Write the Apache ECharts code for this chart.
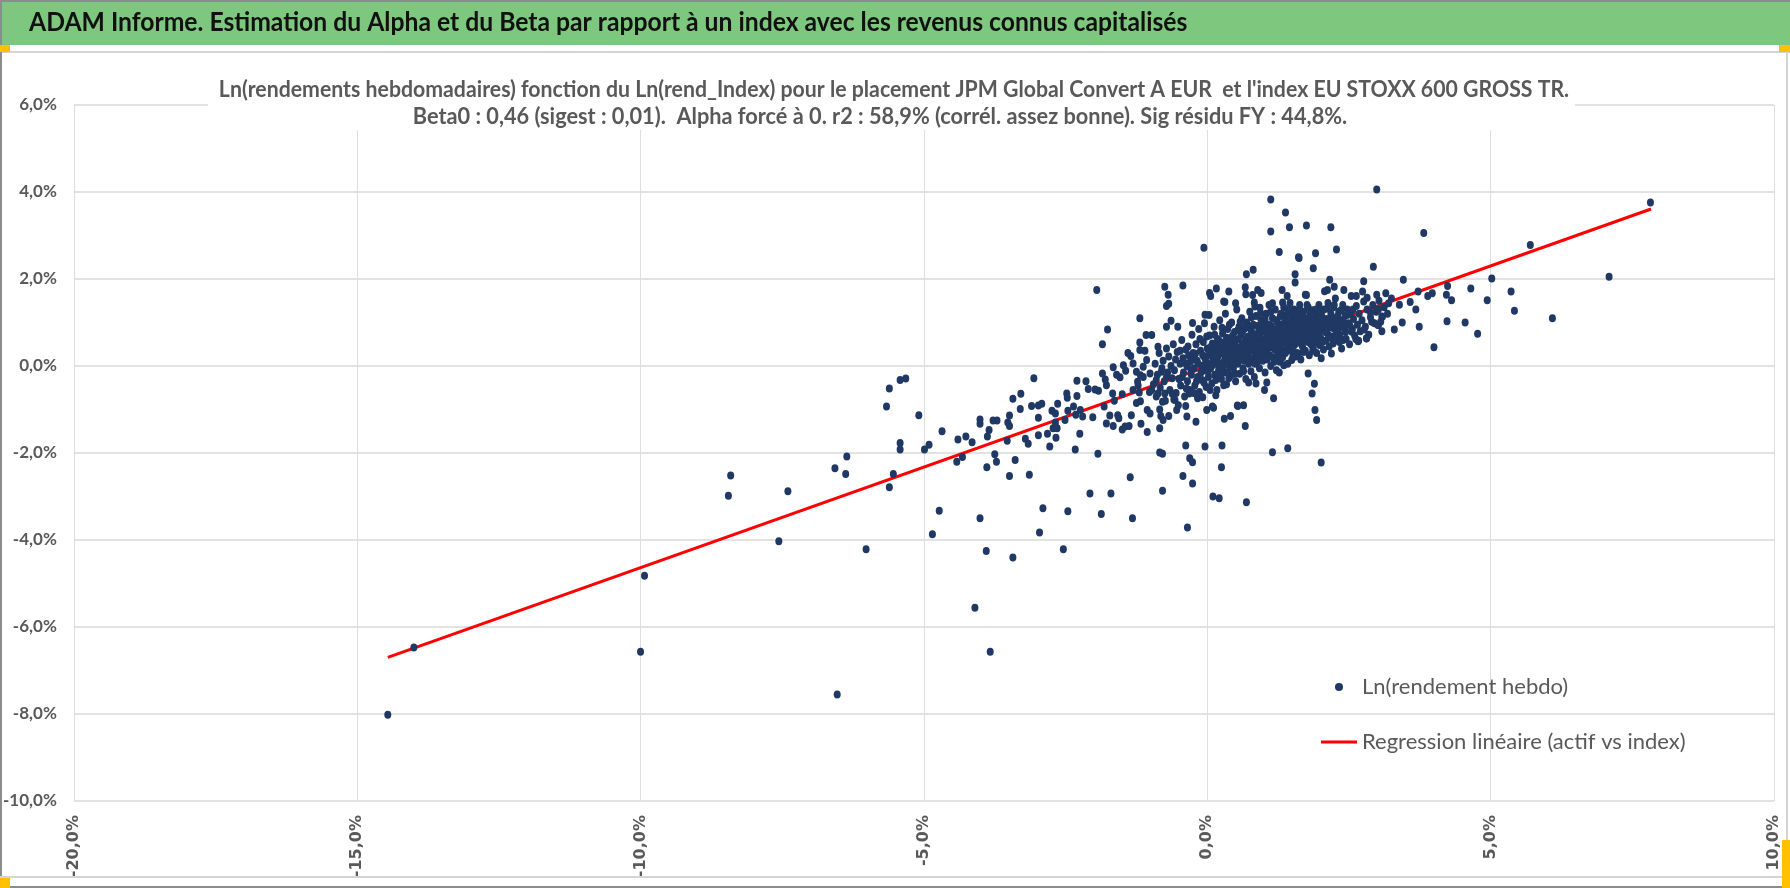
<!DOCTYPE html>
<html>
<head>
<meta charset="utf-8">
<title>ADAM Informe - Alpha et Beta</title>
<script src="https://cdn.jsdelivr.net/npm/echarts@6.0.0/dist/echarts.min.js"></script>
<style>
    html, body { margin: 0; padding: 0; background: #fff; }
    #adam-chart { width: 1790px; height: 888px; }
</style>
</head>
<body>
<div id="adam-chart"></div>
<script>
// textes
var headerText = "ADAM Informe. Estimation du Alpha et du Beta par rapport à un index avec les revenus connus capitalisés";
var subLine1 = "Ln(rendements hebdomadaires) fonction du Ln(rend_Index) pour le placement JPM Global Convert A EUR  et l'index EU STOXX 600 GROSS TR.";
var subLine2 = "Beta0 : 0,46 (sigest : 0,01).  Alpha forcé à 0. r2 : 58,9% (corrél. assez bonne). Sig résidu FY : 44,8%.";
var seriesNames = ["Ln(rendement hebdo)", "Regression linéaire (actif vs index)"];

// axes (en %)
var xTicks = [-20, -15, -10, -5, 0, 5, 10];
var yTicks = [-10, -8, -6, -4, -2, 0, 2, 4, 6];

// droite de regression : extremites
var regX = [-14.46, 7.83];
var regY = [-6.70, 3.61];

// points [index, placement] en % - queue gauche
var leftTail = [
    [-14.46,-8.02],[-14.0,-6.47],[-10.0,-6.57],[-9.93,-4.82],[-8.45,-2.98],[-8.41,-2.52],[-7.56,-4.03],[-7.40,-2.88],
    [-6.57,-2.35],[-6.53,-7.55],[-6.38,-2.48],[-6.36,-2.08],[-6.02,-4.21],[-5.66,-0.93],[-5.61,-0.52],[-5.61,-2.79],
    [-5.54,-2.48],[-5.42,-0.32],[-5.42,-1.77],[-5.42,-1.92],[-5.32,-0.29],[-5.09,-1.13],[-4.99,-1.92],[-4.91,-1.81],
    [-4.85,-3.87],[-4.73,-3.33],[-4.68,-1.50],[-4.40,-1.69],[-4.42,-2.20],[-4.32,-2.09],[-4.26,-1.62],[-4.15,-1.75],
    [-4.10,-5.56],[-4.01,-1.23],[-4.01,-1.33],[-4.01,-3.50],[-3.90,-4.25],[-3.89,-2.33],[-3.88,-1.62],[-3.85,-1.47],
    [-3.83,-6.57],[-3.78,-1.25],[-3.75,-2.03],[-3.72,-2.20],[-3.71,-1.25],[-3.53,-1.72],[-3.52,-1.30],[-3.49,-1.14],
    [-3.49,-1.38],[-3.49,-2.53],[-3.43,-0.75],[-3.43,-4.40],[-3.39,-2.16],[-3.30,-0.99],[-3.29,-0.64],[-3.21,-1.67],
    [-3.16,-1.79],[-3.14,-2.50],[-3.10,-0.92],[-3.06,-0.28],[-2.98,-0.91],[-2.98,-1.19],[-2.98,-1.59],[-2.96,-3.83],
    [-2.92,-0.87],[-2.90,-3.27],[-2.82,-1.56],[-2.78,-1.85],[-2.74,-1.03],[-2.72,-1.43],[-2.68,-1.09],[-2.68,-1.30],
    [-2.67,-1.65],[-2.65,-1.43],[-2.64,-0.87],[-2.54,-4.21]
];

// de -2,5% a -1%
var midLeft = [
    [-2.51,-1.24],[-2.48,-0.63],[-2.47,-0.73],[-2.46,-1.03],[-2.46,-3.34],[-2.36,-0.93],[-2.33,-1.92],[-2.32,-1.12],
    [-2.30,-0.34],[-2.30,-0.69],[-2.25,-1.56],[-2.24,-1.01],[-2.20,-1.16],[-2.14,-0.35],[-2.10,-0.53],[-2.07,-2.93],
    [-2.02,-1.18],[-1.98,-0.54],[-1.95,1.75],[-1.93,-2.02],[-1.92,-0.57],[-1.87,-3.40],[-1.85,-0.17],[-1.85,0.50],
    [-1.82,-0.93],[-1.80,-0.31],[-1.78,-0.44],[-1.78,-1.32],[-1.76,0.84],[-1.72,-1.14],[-1.70,-2.93],[-1.67,-0.63],
    [-1.66,-0.03],[-1.66,-1.38],[-1.64,-0.80],[-1.60,-0.20],[-1.58,-1.13],[-1.56,-1.20],[-1.54,-0.26],[-1.50,-1.46],
    [-1.50,-0.65],[-1.48,0.02],[-1.45,-1.39],[-1.44,-0.11],[-1.40,0.30],[-1.38,-1.38],[-1.36,-2.56],[-1.35,0.23],
    [-1.34,-1.13],[-1.32,-3.50],[-1.31,0.06],[-1.31,-0.55],[-1.25,-0.13],[-1.25,-0.85],[-1.23,-0.36],[-1.22,-0.45],
    [-1.20,-0.61],[-1.19,1.10],[-1.19,0.54],[-1.19,0.37],[-1.18,-0.21],[-1.18,-0.81],[-1.17,-1.33],[-1.13,-0.25],
    [-1.13,-0.02],[-1.10,0.35],[-1.08,0.71],[-1.07,0.14],[-1.06,-1.01],[-1.06,-1.52],[-1.02,-0.60],[-1.01,-0.17],
    [-1.01,-1.09],[-0.98,0.71],[-0.98,-0.55]
];

// autour du nuage central, points isoles
var cloudEdge = [
    [-0.90,-0.32],[-0.87,0.44],[-0.87,-0.63],[-0.84,-1.00],[-0.84,-1.43],[-0.84,-1.99],[-0.82,-1.15],[-0.81,-0.13],
    [-0.79,-2.02],[-0.79,-2.87],[-0.79,-0.82],[-0.78,-1.24],[-0.75,1.82],[-0.75,-0.63],[-0.72,1.38],[-0.72,0.90],
    [-0.72,-0.25],[-0.69,1.64],[-0.68,1.43],[-0.68,-1.15],[-0.64,1.04],[-0.62,-0.63],[-0.59,-0.77],[-0.57,-0.78],
    [-0.54,-1.01],[-0.52,0.90],[-0.51,-0.90],[-0.43,1.85],[-0.43,-2.53],[-0.38,-1.83],[-0.38,-0.92],[-0.36,-1.16],
    [-0.35,-3.71],[-0.32,-0.63],[-0.31,-2.12],[-0.26,0.99],[-0.26,-2.21],[-0.26,-2.70],[-0.20,-1.28],[-0.17,-0.74],
    [-0.17,-0.70],[-0.08,-0.72],[-0.06,2.72],[-0.05,0.98],[-0.04,1.18],[-0.04,-1.85],[-0.01,-1.01],[0.03,1.17],
    [0.04,1.68],[0.06,1.61],[0.09,-0.93],[0.10,-3.00],[0.11,-0.96],[0.15,-0.67],[0.16,1.78],[0.21,-3.04],
    [0.25,-2.33],[0.26,-1.83],[0.29,1.48],[0.29,-0.44],[0.30,-1.21],[0.31,1.47],[0.38,1.71],[0.38,-0.28],
    [0.41,-1.15],[0.50,1.44],[0.53,-0.91],[0.54,-0.92],[0.64,-0.90],[0.67,1.81],[0.67,-1.38],[0.68,1.65],
    [0.69,2.11],[0.69,-3.13],[0.73,-0.38],[0.80,1.63],[0.81,2.21],[0.83,1.46],[0.84,1.37],[0.86,-0.40],
    [0.89,1.75],[0.93,1.34],[0.95,1.68],[1.01,-0.55],[1.05,-0.38],[1.12,3.83],[1.12,3.09],[1.15,1.44],
    [1.15,-1.98],[1.17,-0.74],[1.27,2.62],[1.27,-0.15],[1.32,1.75],[1.33,1.46],[1.35,0.02],[1.38,3.53],
    [1.41,1.61],[1.42,-1.89],[1.45,3.19],[1.49,0.14],[1.55,2.11],[1.55,1.92],[1.61,2.50],[1.61,0.29],
    [1.62,2.48],[1.75,3.23],[1.75,1.63],[1.78,-0.17],[1.85,-0.63],[1.87,2.25],[1.89,-0.41],[1.90,-1.01],
    [1.91,2.59],[1.93,-1.24],[2.01,-2.22],[2.01,0.18],[2.19,0.29],[2.31,0.87],[2.40,0.60],[2.55,0.79],
    [2.67,0.58],[2.81,0.64],[2.90,1.02],[3.02,0.94],[3.09,1.13]
];

// nuage dense autour de zero
var denseCore = [
    [-0.95,-0.42],[-0.92,0.05],[-0.90,-0.70],[-0.88,-0.20],[-0.85,0.30],[-0.83,-0.50],[-0.80,-0.05],[-0.78,0.12],
    [-0.76,-0.35],[-0.74,-0.80],[-0.72,0.40],[-0.70,-0.15],[-0.68,0.22],[-0.66,-0.55],[-0.64,0.00],[-0.62,-0.28],
    [-0.60,0.50],[-0.58,-0.10],[-0.56,0.15],[-0.55,-0.62],[-0.53,0.32],[-0.50,-0.30],[-0.48,0.05],[-0.47,-0.45],
    [-0.45,0.60],[-0.43,0.18],[-0.42,-0.15],[-0.40,-0.70],[-0.38,0.38],[-0.36,0.00],[-0.35,-0.35],[-0.33,0.25],
    [-0.31,-0.55],[-0.30,0.10],[-0.28,-0.20],[-0.27,0.72],[-0.25,0.30],[-0.23,-0.05],[-0.22,-0.45],[-0.20,0.50],
    [-0.18,0.12],[-0.17,-0.25],[-0.15,0.85],[-0.14,-0.60],[-0.12,0.35],[-0.10,0.00],[-0.09,-0.32],[-0.07,0.55],
    [-0.05,0.20],[-0.04,-0.10],[-0.02,-0.48],[0.00,0.40],[0.01,0.05],[0.02,-0.25],[0.04,0.70],[0.05,0.25],
    [0.06,-0.05],[0.08,-0.40],[0.09,0.52],[0.10,0.15],[0.12,0.90],[0.13,-0.20],[0.14,0.35],[0.15,0.05],
    [0.17,-0.55],[0.18,0.62],[0.19,0.22],[0.20,-0.10],[0.22,1.05],[0.23,0.42],[0.24,0.00],[0.25,-0.30],
    [0.27,0.75],[0.28,0.28],[0.29,0.10],[0.30,-0.15],[0.31,0.55],[0.32,1.20],[0.33,0.35],[0.34,-0.42],
    [0.35,0.15],[0.36,0.85],[0.38,0.45],[0.39,0.00],[0.40,0.25],[0.41,-0.22],[0.42,0.65],[0.43,1.00],
    [0.44,0.38],[0.45,0.10],[0.46,-0.05],[0.47,0.55],[0.48,0.78],[0.49,0.20],[0.50,-0.35],[0.51,0.45],
    [0.52,1.30],[0.53,0.30],[0.54,0.05],[0.55,0.62],[0.56,0.90],[0.57,-0.18],[0.58,0.40],[0.59,0.18],
    [0.60,0.72],[0.61,1.10],[0.62,0.50],[0.63,-0.05],[0.64,0.30],[0.65,0.85],[0.66,0.12],[0.67,0.58],
    [0.68,-0.30],[0.69,0.42],[0.70,1.00],[0.71,0.25],[0.72,0.68],[0.73,0.05],[0.74,0.48],[0.75,1.25],
    [0.76,0.35],[0.77,-0.12],[0.78,0.80],[0.79,0.55],[0.80,0.18],[0.81,0.95],[0.82,0.40],[0.83,-0.25],
    [0.84,0.65],[0.85,0.28],[0.86,1.15],[0.87,0.50],[0.88,0.08],[0.89,0.75],[0.90,0.35],[0.91,0.90],
    [0.92,-0.05],[0.93,0.60],[0.94,0.22],[0.95,1.05],[0.96,0.45],[0.97,0.78],[0.98,0.12],[0.99,0.55],
    [1.00,0.30],[1.01,0.95],[1.02,-0.15],[1.03,0.62],[1.04,1.20],[1.05,0.40],[1.06,0.15],[1.07,0.80],
    [1.08,0.50],[1.09,1.40],[1.10,0.25],[1.11,0.70],[1.12,0.00],[1.13,0.92],[1.14,0.45],[1.15,1.10],
    [1.16,0.60],[1.17,0.20],[1.18,0.82],[1.19,0.38],[1.20,1.30],[1.21,0.55],[1.22,-0.10],[1.23,0.72],
    [1.24,1.00],[1.25,0.32],[1.26,0.88],[1.27,0.50],[1.28,0.10],[1.29,1.15],[1.30,0.65],[1.31,0.40],
    [1.32,0.95],[1.33,0.20],[1.34,0.75],[1.35,1.35],[1.36,0.55],[1.37,1.05],[1.38,0.30],[1.39,0.85],
    [1.40,0.62],[1.41,1.20],[1.42,0.05],[1.43,0.45],[1.44,0.98],[1.45,0.70],[1.46,1.45],[1.47,0.35],
    [1.48,0.88],[1.49,0.58],[1.50,1.10],[1.51,0.20],[1.52,0.75],[1.53,1.30],[1.54,0.48],[1.55,0.95],
    [1.56,0.65],[1.57,1.18],[1.58,0.30],[1.59,0.82],[1.60,1.00],[1.62,0.55],[1.63,1.40],[1.64,0.72],
    [1.65,0.15],[1.66,0.90],[1.67,1.12],[1.68,0.45],[1.69,0.65],[1.70,1.25],[1.72,0.80],[1.73,0.35],
    [1.74,1.05],[1.75,0.58],[1.76,0.95],[1.78,1.35],[1.79,0.70],[1.80,0.25],[1.81,1.15],[1.82,0.85],
    [1.83,0.50],[1.84,1.00],[1.85,0.62],[1.86,1.28],[1.87,0.40],[1.88,0.78],[1.90,1.10],[1.91,0.92],
    [1.92,0.55],[1.93,0.30],[1.94,1.20],[1.95,0.70],[1.96,0.88],[1.97,1.40],[1.98,0.48],[1.99,1.02],
    [2.00,0.65],[2.02,1.15],[2.03,0.82],[2.05,0.38],[2.06,1.30],[2.08,0.95],[2.09,0.58],[2.10,1.08],
    [2.12,0.75],[2.13,1.45],[2.15,0.45],[2.16,0.90],[2.18,1.20],[2.19,0.68],[2.20,1.00],[2.22,0.52],
    [2.23,1.35],[2.25,0.85],[2.27,1.10],[2.28,0.60],[2.30,0.95],[2.32,1.25],[2.34,0.72],[2.36,1.05],
    [2.37,0.40],[2.39,1.40],[2.41,0.88],[2.43,1.15],[2.45,0.62],[2.47,1.30],[2.49,0.98],[2.51,0.50],
    [2.53,1.22],[2.56,0.85],[2.58,1.08],[2.60,0.70],[2.63,1.38],[2.65,0.95],[2.68,1.20],[2.70,0.80],
    [2.73,1.05],[2.76,1.48],[2.79,0.90],[2.82,1.30],[2.85,0.72],[2.88,1.12],[2.92,1.40],[2.95,0.98],
    [2.98,1.25],[3.03,1.50],[3.06,1.02],[3.12,1.35],[3.18,1.20],[3.25,1.55]
];

// seconde couche du nuage dense
var denseCore2 = [
    [-0.48,0.35],[-0.44,-0.25],[-0.41,0.08],[-0.37,-0.52],[-0.34,0.45],[-0.29,-0.08],[-0.26,0.15],[-0.24,-0.62],
    [-0.21,0.28],[-0.19,-0.35],[-0.16,0.05],[-0.13,0.62],[-0.11,-0.15],[-0.08,0.25],[-0.06,-0.38],[-0.03,0.12],
    [-0.01,0.68],[0.01,-0.12],[0.03,0.32],[0.05,-0.55],[0.07,0.45],[0.09,0.02],[0.11,0.28],[0.13,0.72],
    [0.15,-0.32],[0.16,0.48],[0.18,0.08],[0.21,0.58],[0.22,-0.22],[0.24,0.32],[0.26,0.88],[0.28,-0.02],
    [0.30,0.42],[0.32,0.18],[0.34,0.65],[0.36,-0.15],[0.37,0.30],[0.39,0.95],[0.41,0.52],[0.43,0.08],
    [0.45,0.70],[0.47,0.25],[0.49,-0.18],[0.50,0.60],[0.52,0.38],[0.54,0.82],[0.56,0.12],[0.58,1.02],
    [0.60,0.28],[0.62,0.78],[0.64,-0.12],[0.66,0.45],[0.68,0.95],[0.70,0.62],[0.72,0.15],[0.74,0.88],
    [0.76,0.52],[0.78,1.12],[0.80,0.38],[0.82,0.72],[0.84,0.05],[0.86,0.58],[0.88,0.92],[0.90,0.20],
    [0.92,0.68],[0.94,1.22],[0.96,0.32],[0.98,0.88],[1.00,0.50],[1.02,1.08],[1.04,0.18],[1.06,0.72],
    [1.08,0.95],[1.10,0.42],[1.12,1.25],[1.14,0.62],[1.16,0.85],[1.18,0.10],[1.20,0.68],[1.22,1.05],
    [1.24,0.48],[1.26,0.25],[1.28,0.82],[1.30,1.20],[1.32,0.55],[1.34,0.92],[1.36,0.32],[1.38,1.10],
    [1.40,0.78],[1.42,0.45],[1.44,1.30],[1.46,0.58],[1.48,0.98],[1.50,0.40],[1.52,1.18],[1.54,0.72],
    [1.56,0.22],[1.58,1.05],[1.60,0.62],[1.62,0.88],[1.64,1.28],[1.66,0.50],[1.68,0.95],[1.70,0.32],
    [1.72,1.10],[1.74,0.75],[1.76,1.40],[1.78,0.55],[1.80,0.92],[1.82,1.22],[1.84,0.68],[1.86,0.35],
    [1.88,1.05],[1.90,0.80],[1.92,1.30],[1.94,0.60],[1.96,1.12],[1.98,0.85],[2.00,1.25],[2.03,0.55],
    [2.06,1.00],[2.09,0.78],[2.12,1.32],[2.15,0.65],[2.18,1.05],[2.21,0.88],[2.24,1.40],[2.27,0.72],
    [2.30,1.15],[2.33,0.55],[2.36,1.28],[2.40,1.00],[2.44,0.78],[2.48,1.18],[2.52,0.92],[2.57,1.30],
    [2.62,0.62]
];

// queue droite
var rightTail = [
    [2.99,4.06],[7.82,3.76],[2.18,3.19],[3.82,3.06],[2.28,2.68],[2.93,2.28],[5.70,2.78],[2.16,1.98],
    [2.76,1.95],[3.46,1.98],[5.02,2.01],[7.09,2.05],[1.73,1.64],[2.07,1.72],[2.12,1.75],[2.41,1.75],
    [2.24,1.82],[2.26,1.55],[2.54,1.61],[2.63,1.61],[2.74,1.71],[2.82,1.57],[2.99,1.64],[3.15,1.67],
    [3.20,1.44],[3.39,1.41],[3.58,1.47],[3.72,1.71],[3.68,1.30],[3.89,1.61],[3.97,1.67],[4.24,1.84],
    [4.22,1.64],[4.31,1.51],[4.65,1.78],[4.94,1.51],[5.36,1.71],[5.42,1.27],[6.09,1.10],[4.23,1.03],
    [4.55,1.00],[4.77,0.74],[4.00,0.43],[3.44,1.00],[3.30,0.84],[3.74,0.90],[3.08,0.80],[3.01,0.94],
    [2.81,0.63],[2.66,0.57],[2.77,0.84],[2.88,1.23],[3.02,1.30],[3.08,1.14]
];

var textFont = "Lato, 'Open Sans', sans-serif";
var greyText = '#595959';

function pct(v) {
    return v.toFixed(1).replace('.', ',') + '%';
}

var weeklyData = leftTail.concat(midLeft, cloudEdge, denseCore, denseCore2, rightTail);
var regData = [[regX[0], regY[0]], [regX[1], regY[1]]];

var AdamChart = echarts.init(document.getElementById('adam-chart'));
var AdamOption = {
    animation: false,
    backgroundColor: '#fff',
    graphic: [
        // bandeau vert + cadre
        {type: 'rect', z: 50, shape: {x: 0, y: 0, width: 1790, height: 45}, style: {fill: '#7ec77e'}},
        {type: 'text', z: 55, x: 29, y: 23, scaleX: 0.95,
            style: {text: headerText, textVerticalAlign: 'middle', font: 'bold 26px ' + textFont, fill: '#111'}},
        {type: 'line', z: 51, shape: {x1: 0, y1: 1, x2: 1790, y2: 1}, style: {stroke: '#8c8c8c', lineWidth: 2}},
        {type: 'line', z: 51, shape: {x1: 0, y1: 52, x2: 1790, y2: 52}, style: {stroke: '#d4d4d4', lineWidth: 2}},
        {type: 'line', z: 51, shape: {x1: 1, y1: 0, x2: 1, y2: 888}, style: {stroke: '#8c8c8c', lineWidth: 2}},
        {type: 'line', z: 51, shape: {x1: 1787, y1: 45, x2: 1787, y2: 888}, style: {stroke: '#d4d4d4', lineWidth: 2}},
        {type: 'line', z: 51, shape: {x1: 0, y1: 877, x2: 1790, y2: 877}, style: {stroke: '#d4d4d4', lineWidth: 2}},
        {type: 'line', z: 51, shape: {x1: 0, y1: 887, x2: 1790, y2: 887}, style: {stroke: '#8c8c8c', lineWidth: 2}},
        {type: 'rect', z: 52, shape: {x: 0, y: 45, width: 10, height: 7}, style: {fill: '#ffc000'}},
        {type: 'rect', z: 52, shape: {x: 1779, y: 45, width: 11, height: 7}, style: {fill: '#ffc000'}},
        {type: 'rect', z: 52, shape: {x: 0, y: 878, width: 10, height: 10}, style: {fill: '#ffc000'}},
        {type: 'rect', z: 52, shape: {x: 1782, y: 840, width: 8, height: 48}, style: {fill: '#ffc000'}},
        // titre du graphique sur fond blanc
        {type: 'rect', z: 60, shape: {x: 208, y: 70, width: 1367, height: 60}, style: {fill: '#fff'}},
        {type: 'text', z: 61, x: 894, y: 90, scaleX: 0.925, style: {text: subLine1, textAlign: 'center', textVerticalAlign: 'middle',
            font: 'bold 23px ' + textFont, fill: greyText}},
        {type: 'text', z: 61, x: 880, y: 117, scaleX: 0.945, style: {text: subLine2, textAlign: 'center', textVerticalAlign: 'middle',
            font: 'bold 23px ' + textFont, fill: greyText}}
    ],
    legend: {
        orient: 'vertical',
        left: 1316,
        top: 671,
        itemWidth: 36,
        itemHeight: 8,
        itemGap: 33,
        textStyle: {fontFamily: textFont, fontSize: 22, color: greyText},
        data: [
            {name: seriesNames[0], icon: 'circle'},
            {name: seriesNames[1], icon: 'path://M0,0 H36 V3 H0 Z'}
        ]
    },
    grid: {
        left: 68,
        right: 16,
        top: 105,
        bottom: 87
    },
    xAxis: {
        type: 'value',
        min: xTicks[0],
        max: xTicks[xTicks.length - 1],
        interval: 5,
        axisLine: {show: false},
        axisTick: {show: false},
        splitLine: {lineStyle: {color: '#dedede', width: 1}},
        axisLabel: {
            rotate: 90,
            margin: 14,
            fontFamily: 'DejaVu Sans',
            fontWeight: 'bold',
            fontSize: 16,
            color: greyText,
            formatter: pct
        }
    },
    yAxis: {
        type: 'value',
        min: yTicks[0],
        max: yTicks[yTicks.length - 1],
        interval: 2,
        axisLine: {show: false},
        axisTick: {show: false},
        splitLine: {lineStyle: {color: '#d9d9d9', width: 1.5}},
        axisLabel: {
            margin: 17,
            fontFamily: textFont,
            fontWeight: 'bold',
            fontSize: 17,
            color: greyText,
            formatter: pct
        }
    },
    series: [
        {
            name: seriesNames[1],
            type: 'line',
            z: 2,
            symbol: 'none',
            data: regData,
            lineStyle: {color: '#ff0000', width: 3},
            itemStyle: {color: '#ff0000'}
        },
        {
            name: seriesNames[0],
            type: 'scatter',
            z: 3,
            symbol: 'circle',
            symbolSize: [7, 8],
            data: weeklyData,
            itemStyle: {color: '#203864', opacity: 1}
        }
    ]
};
AdamChart.setOption(AdamOption);
</script>
</body>
</html>
